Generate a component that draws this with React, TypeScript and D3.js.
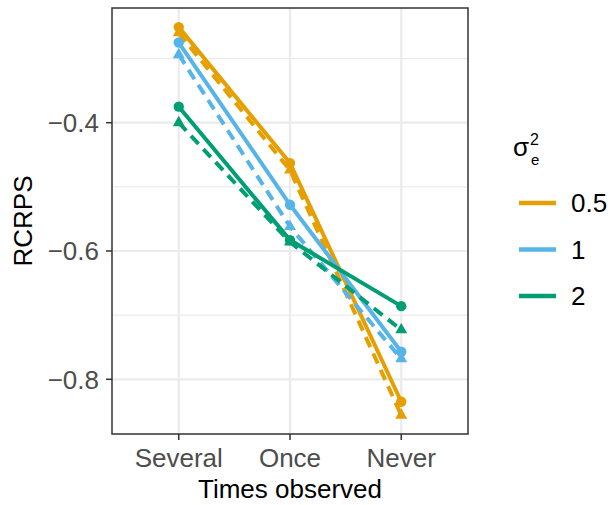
import React from "react";
import * as d3 from "d3";

const categories = ["Several", "Once", "Never"];
const groups = ["0.5", "1", "2"];
const colors = ["#E69F00", "#56B4E9", "#009E73"];
// solid lines with circles
const solidValues = [
  [-0.251, -0.463, -0.835],
  [-0.275, -0.528, -0.757],
  [-0.375, -0.583, -0.686],
];
// dashed lines with triangles
const dashedValues = [
  [-0.26, -0.474, -0.856],
  [-0.294, -0.562, -0.768],
  [-0.4, -0.586, -0.723],
];
const yMajor = [-0.4, -0.6, -0.8];
const yMinor = [-0.3, -0.5, -0.7];

const W = 613;
const H = 505;
const panel = { left: 112, right: 468, top: 8, bottom: 434 };
const FONT = "'Liberation Sans', Arial, Helvetica, sans-serif";

export default function App() {
  const x = d3
    .scalePoint<string>()
    .domain(categories)
    .range([panel.left, panel.right])
    .padding(0.6);
  const y = d3
    .scaleLinear()
    .domain([-0.8853, -0.2212])
    .range([panel.bottom, panel.top]);

  const line = d3
    .line<number>()
    .x((_, i) => x(categories[i]) as number)
    .y((d) => y(d));
  const tri = d3.symbol().type(d3.symbolTriangle).size(62)() as string;

  return (
    <svg
      width={W}
      height={H}
      style={{ position: "absolute", left: 0, top: 0, background: "#fff" }}
      fontFamily={FONT}
    >
      <defs>
        <clipPath id="panel-clip">
          <rect
            x={panel.left}
            y={panel.top}
            width={panel.right - panel.left}
            height={panel.bottom - panel.top}
          />
        </clipPath>
      </defs>
      {/* grid */}
      {yMinor.map((v) => (
        <line
          key={"mi" + v}
          x1={panel.left}
          x2={panel.right}
          y1={y(v)}
          y2={y(v)}
          stroke="#EBEBEB"
          strokeWidth={1.2}
        />
      ))}
      {yMajor.map((v) => (
        <line
          key={"ma" + v}
          x1={panel.left}
          x2={panel.right}
          y1={y(v)}
          y2={y(v)}
          stroke="#EBEBEB"
          strokeWidth={2.2}
        />
      ))}
      {categories.map((c) => (
        <line
          key={"vx" + c}
          x1={x(c)}
          x2={x(c)}
          y1={panel.top}
          y2={panel.bottom}
          stroke="#EBEBEB"
          strokeWidth={2.2}
        />
      ))}
      {/* lines */}
      <g clipPath="url(#panel-clip)">
        {groups.map((g, i) => (
          <g key={"l" + g}>
            <path
              d={line(solidValues[i]) as string}
              fill="none"
              stroke={colors[i]}
              strokeWidth={4}
            />
            <path
              d={line(dashedValues[i]) as string}
              fill="none"
              stroke={colors[i]}
              strokeWidth={4}
              strokeDasharray="11 7"
            />
          </g>
        ))}
        {groups.map((g, i) => (
          <g key={"p" + g}>
            {solidValues[i].map((v, j) => (
              <circle
                key={"c" + j}
                cx={x(categories[j])}
                cy={y(v)}
                r={5.2}
                fill={colors[i]}
              />
            ))}
            {dashedValues[i].map((v, j) => (
              <path
                key={"t" + j}
                d={tri}
                transform={`translate(${x(categories[j])},${y(v)})`}
                fill={colors[i]}
              />
            ))}
          </g>
        ))}
      </g>
      {/* panel border */}
      <rect
        x={panel.left}
        y={panel.top}
        width={panel.right - panel.left}
        height={panel.bottom - panel.top}
        fill="none"
        stroke="#333333"
        strokeWidth={1.5}
      />
      {/* y axis */}
      {yMajor.map((v) => (
        <g key={"yt" + v}>
          <line
            x1={panel.left - 6}
            x2={panel.left}
            y1={y(v)}
            y2={y(v)}
            stroke="#333333"
            strokeWidth={1.5}
          />
          <text
            x={panel.left - 13}
            y={y(v)}
            dy="0.36em"
            textAnchor="end"
            fontSize={26}
            fill="#4D4D4D"
          >
            {d3.format(".1f")(v).replace("-", "\u2212")}
          </text>
        </g>
      ))}
      {/* x axis */}
      {categories.map((c) => (
        <g key={"xt" + c}>
          <line
            x1={x(c)}
            x2={x(c)}
            y1={panel.bottom}
            y2={panel.bottom + 6}
            stroke="#333333"
            strokeWidth={1.5}
          />
          <text
            x={x(c)}
            y={467}
            textAnchor="middle"
            fontSize={26}
            fill="#4D4D4D"
          >
            {c}
          </text>
        </g>
      ))}
      <text
        x={(panel.left + panel.right) / 2}
        y={498}
        textAnchor="middle"
        fontSize={26}
        fill="#000"
      >
        Times observed
      </text>
      <text
        transform={`translate(32,${(panel.top + panel.bottom) / 2}) rotate(-90)`}
        textAnchor="middle"
        fontSize={26}
        fill="#000"
      >
        RCRPS
      </text>
      {/* legend */}
      <text x={513} y={156} fontSize={26} fill="#000">
        σ
      </text>
      <text x={530} y={145} fontSize={16} fill="#000">
        2
      </text>
      <text x={531} y={165} fontSize={15} fill="#000">
        e
      </text>
      {groups.map((g, i) => {
        const ky = 203 + i * 46.5;
        return (
          <g key={"lg" + g}>
            <line
              x1={519}
              x2={556}
              y1={ky}
              y2={ky}
              stroke={colors[i]}
              strokeWidth={4.5}
            />
            <text x={571} y={ky} dy="0.36em" fontSize={26} fill="#000">
              {g}
            </text>
          </g>
        );
      })}
    </svg>
  );
}
